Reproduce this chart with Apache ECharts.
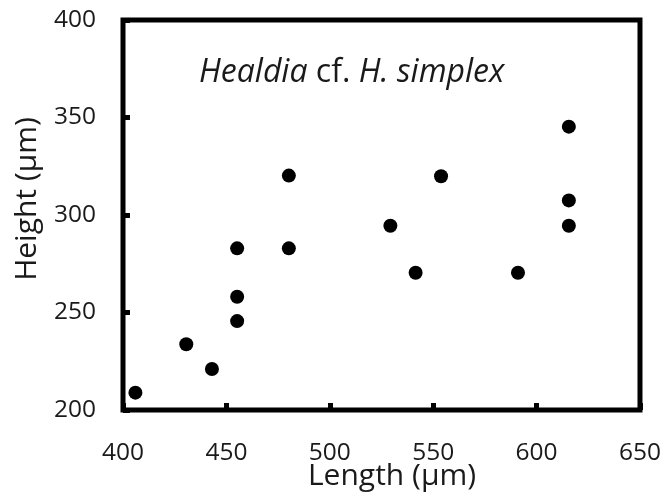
<!DOCTYPE html>
<html>
<head>
<meta charset="utf-8">
<script src="https://cdn.jsdelivr.net/npm/echarts@6/dist/echarts.min.js"></script>
<style>html,body{margin:0;padding:0;background:#fff}#c{width:664px;height:501px}</style>
</head>
<body>
<div id="c"></div>
<script>
var lengthVals = [406, 430.6, 443, 455.2, 455.2, 455.2, 480.2, 480.2, 529.3, 541.5, 553.8, 591, 615.6, 615.6, 615.6];
var heightVals = [208.9, 233.7, 221, 245.6, 258.1, 282.9, 282.9, 320.2, 294.5, 270.4, 319.9, 270.4, 345.3, 307.5, 294.5];
var xTicks = [400, 450, 500, 550, 600, 650];
var yTicks = [200, 250, 300, 350, 400];
var xTitle = 'Length (µm)';
var yTitle = 'Height (µm)';

var pts = lengthVals.map(function (v, i) { return [v, heightVals[i]]; });
var FONT = '"Open Sans", "Noto Sans", sans-serif';
var chart = echarts.init(document.getElementById('c'), null, {renderer: 'canvas'});
chart.setOption({
  animation: false,
  backgroundColor: '#fff',
  grid: {left: 123, right: 23, top: 20, bottom: 91, show: true, borderColor: '#000', borderWidth: 5, backgroundColor: 'transparent'},
  xAxis: {
    type: 'value', min: xTicks[0], max: xTicks[xTicks.length - 1], interval: 50,
    axisLine: {show: false},
    axisTick: {show: true, inside: true, length: 7, lineStyle: {color: '#000', width: 5}},
    axisLabel: {color: '#1a1a1a', fontSize: 24.5, fontFamily: FONT, margin: 31},
    splitLine: {show: false}
  },
  yAxis: {
    type: 'value', min: yTicks[0], max: yTicks[yTicks.length - 1], interval: 50,
    axisLine: {show: false},
    axisTick: {show: true, inside: true, length: 7, lineStyle: {color: '#000', width: 5}},
    axisLabel: {color: '#1a1a1a', fontSize: 24.5, fontFamily: FONT, margin: 27},
    splitLine: {show: false}
  },
  graphic: [
    {type: 'text', x: 392, y: 476, style: {text: xTitle, fill: '#1a1a1a', font: '30px ' + FONT, textAlign: 'center', textVerticalAlign: 'middle'}},
    {type: 'text', x: 27, y: 199, rotation: Math.PI / 2, style: {text: yTitle, fill: '#1a1a1a', font: '30px ' + FONT, textAlign: 'center', textVerticalAlign: 'middle'}},
    {type: 'text', left: 199, top: 57, style: {
      text: '{i|Healdia} cf. {i|H. simplex}',
      fill: '#1a1a1a', font: '32px ' + FONT,
      rich: {i: {fontStyle: 'italic', fontSize: 32, fontFamily: FONT, fill: '#1a1a1a'}}
    }}
  ],
  series: [{
    type: 'scatter', data: pts, symbol: 'circle', symbolSize: 14,
    itemStyle: {color: '#000', opacity: 1}
  }]
});
</script>
</body>
</html>
